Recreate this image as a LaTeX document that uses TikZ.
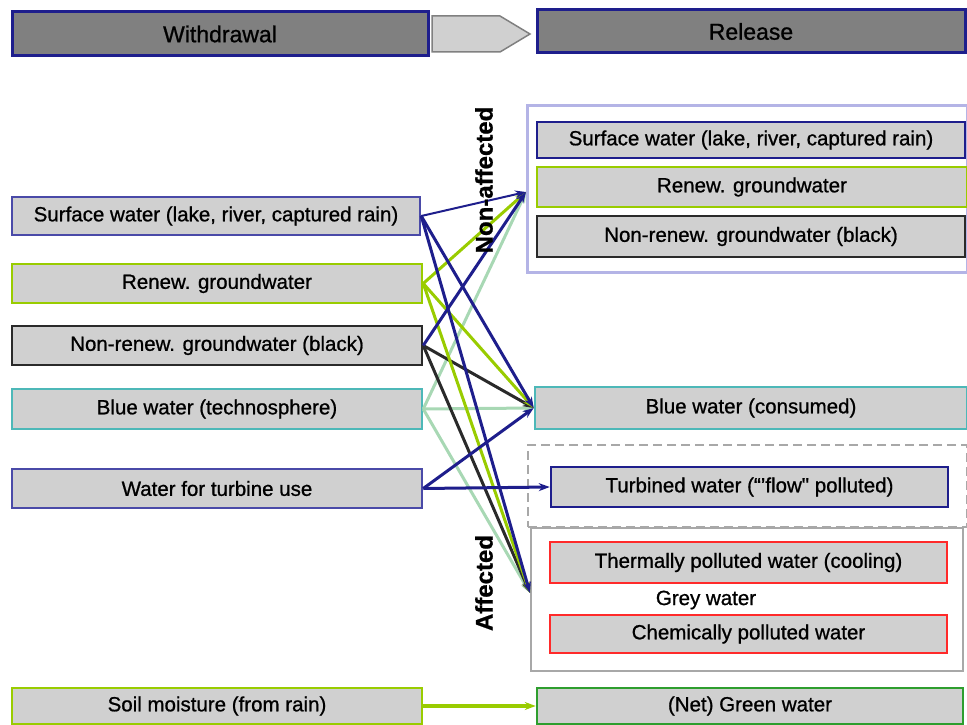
\documentclass[tikz,border=0pt]{standalone}
\usepackage{fontspec}
\setmainfont{Liberation Sans}[FakeBold=0.9]
\usetikzlibrary{arrows.meta}
\definecolor{dblue}{HTML}{1E1E8C}
\definecolor{mblue}{HTML}{4A4AA8}
\definecolor{lgreen}{HTML}{99CC00}
\definecolor{tealb}{HTML}{4DB8B8}
\definecolor{pale}{HTML}{A8D8B4}
\definecolor{boxgray}{HTML}{D0D0D0}
\definecolor{hdrgray}{HTML}{808080}
\definecolor{nagroup}{HTML}{B4B4E6}
\definecolor{netgreen}{HTML}{2E9E2E}
\definecolor{redb}{HTML}{FF2A2A}
\definecolor{blk}{HTML}{2A2A2A}
\definecolor{grpgray}{HTML}{A8A8A8}
\begin{document}
\begin{tikzpicture}[x=1pt,y=-1pt,
  box/.style={draw, fill=boxgray, line width=2.5pt, inner sep=0pt, font=\fontsize{20.5}{24}\selectfont},
  hdr/.style={draw=dblue, fill=hdrgray, line width=3pt, inner sep=0pt, font=\fontsize{23}{26}\selectfont},
  grp/.style={inner sep=0pt, fill=none},
  flow/.style={line width=3pt, -{Stealth[length=11pt,width=8pt]}},
  vlabel/.style={rotate=90, inner sep=0pt, font=\fontsize{24}{28}\selectfont\bfseries}]
\useasboundingbox (0,0) rectangle (967,725);

% headers
\node[hdr, minimum width=416pt, minimum height=44pt] (wd) at (220,34) {Withdrawal};
\node[hdr, minimum width=428pt, minimum height=43pt] (rl) at (751,31.5) {Release};
\draw[fill=boxgray, draw=gray, line width=1.5pt] (432,16) -- (500,16) -- (530,34) -- (500,52) -- (432,52) -- cycle;

% group boxes
\node[grp, draw=nagroup, line width=3pt, minimum width=440pt, minimum height=167pt] (na) at (747,188.5) {};
\node[grp, draw=grpgray, line width=2.5pt, dashed, dash pattern=on 9pt off 5pt, minimum width=439pt, minimum height=82pt] (dg) at (747.5,486) {};
\node[grp, draw=grpgray, line width=2pt, minimum width=432pt, minimum height=143pt] (ag) at (747,599.5) {};

% left boxes
\node[box, draw=mblue, minimum width=408pt, minimum height=38pt] (sw) at (216,216) {Surface water (lake, river, captured rain)};
\node[box, draw=lgreen, minimum width=410pt, minimum height=39pt] (rg) at (217,283.5) {Renew. groundwater};
\node[box, draw=blk, minimum width=410pt, minimum height=39pt] (nr) at (217,345.5) {Non-renew. groundwater (black)};
\node[box, draw=tealb, minimum width=410pt, minimum height=40pt] (bt) at (217,409) {Blue water (technosphere)};
\node[box, draw=mblue, minimum width=410pt, minimum height=39pt] (tu) at (217,488.5) {Water for turbine use};
\node[box, draw=lgreen, minimum width=410pt, minimum height=36pt] (sm) at (217,706) {Soil moisture (from rain)};

% right boxes
\node[box, draw=dblue, minimum width=428pt, minimum height=36pt] (rs) at (751,140) {Surface water (lake, river, captured rain)};
\node[box, draw=lgreen, minimum width=430pt, minimum height=40pt] (rr) at (752,187) {Renew. groundwater};
\node[box, draw=blk, minimum width=428pt, minimum height=41pt] (rn) at (751,236.5) {Non-renew. groundwater (black)};
\node[box, draw=tealb, minimum width=432pt, minimum height=42pt] (bc) at (751,408) {Blue water (consumed)};
\node[box, draw=dblue, minimum width=397pt, minimum height=40pt] (tw) at (749.5,487) {Turbined water (``'flow\textquotedbl\ polluted)};
\node[box, draw=redb, line width=2pt, minimum width=397pt, minimum height=41pt] (th) at (748.5,562.5) {Thermally polluted water (cooling)};
\node[inner sep=0pt, font=\fontsize{20.5}{24}\selectfont] (gw) at (706,600) {Grey water};
\node[box, draw=redb, line width=2pt, minimum width=397pt, minimum height=38pt] (ch) at (748.5,634) {Chemically polluted water};
\node[box, draw=netgreen, minimum width=426pt, minimum height=36pt] (ng) at (750,706) {(Net) Green water};

% targets
\coordinate (natgt) at (526,192);
\coordinate (aftgt) at (530,593);

% connectors
\draw[flow, pale] (bt.east) -- (natgt);
\draw[flow, pale] (bt.east) -- (bc.west);
\draw[flow, pale] (bt.east) -- (aftgt);
\draw[flow, blk] (nr.east) -- (bc.west);
\draw[flow, blk] (nr.east) -- (aftgt);
\draw[flow, lgreen] (rg.east) -- (natgt);
\draw[flow, lgreen] (rg.east) -- (bc.west);
\draw[flow, lgreen] (rg.east) -- (aftgt);
\draw[flow, dblue] (nr.east) -- (natgt);
\draw[flow, dblue, line width=2pt] (sw.east) -- (natgt);
\draw[flow, dblue] (sw.east) -- (bc.west);
\draw[flow, dblue] (sw.east) -- (aftgt);
\draw[flow, dblue] (tu.east) -- (bc.west);
\draw[flow, dblue] (tu.east) -- (tw.west);
\draw[flow, lgreen, line width=3.5pt] (sm.east) -- (ng.west);

% side labels
\node[vlabel] (nal) at (484,180) {Non-affected};
\node[vlabel] (afl) at (484,583) {Affected};
\end{tikzpicture}
\end{document}
